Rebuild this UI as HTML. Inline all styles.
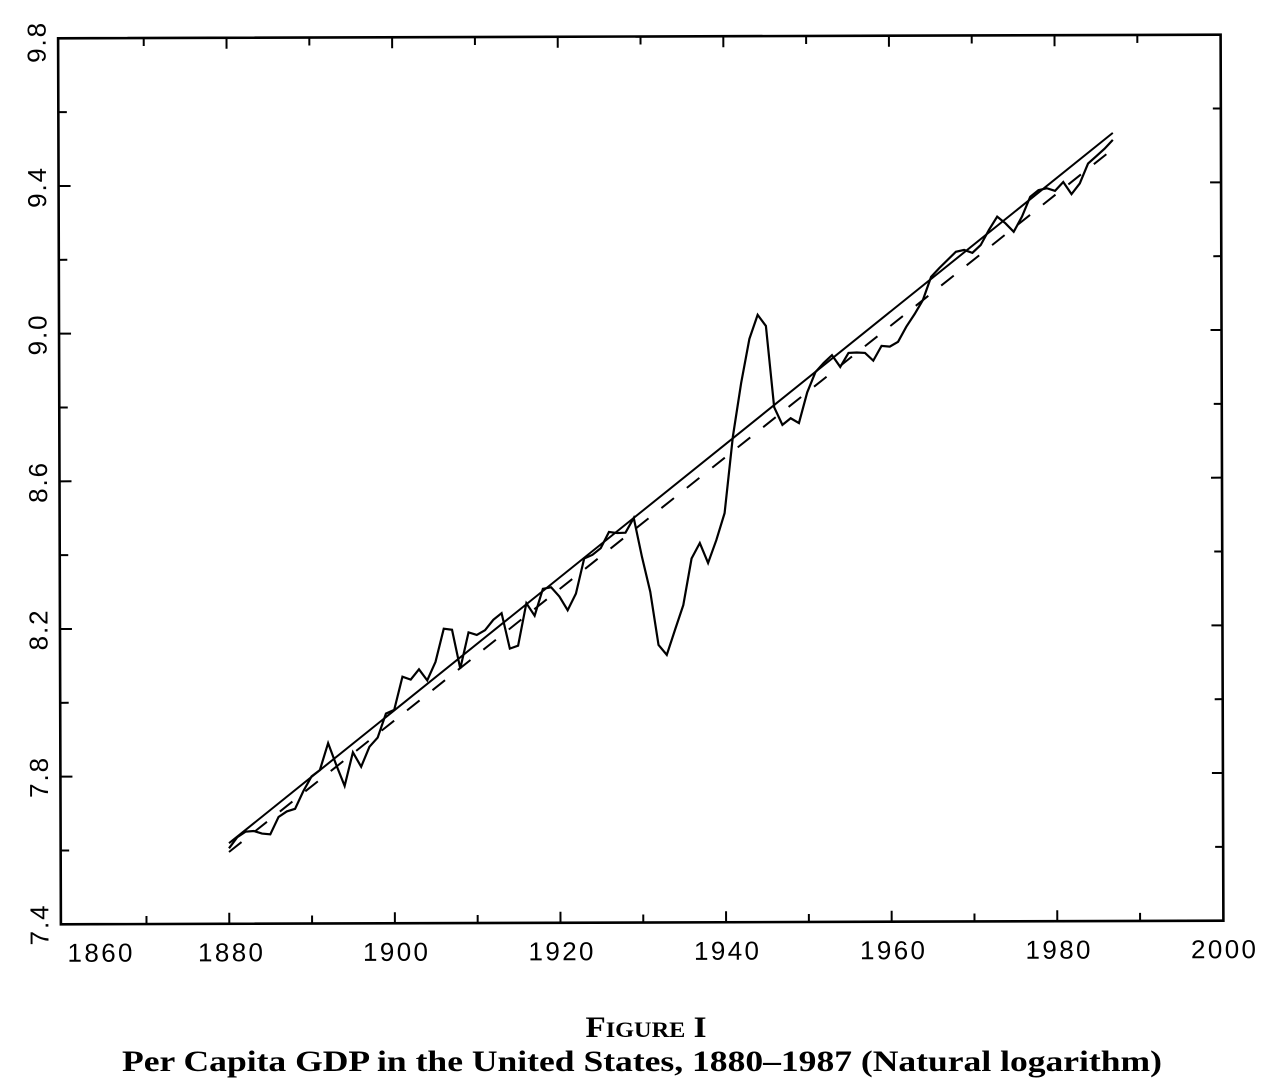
<!DOCTYPE html>
<html>
<head>
<meta charset="utf-8">
<style>
html,body{margin:0;padding:0;background:#fff;}
svg{display:block;}
</style>
</head>
<body>
<svg width="1284" height="1092" viewBox="0 0 1284 1092" xmlns="http://www.w3.org/2000/svg">
<rect x="0" y="0" width="1284" height="1092" fill="#fff"/>
<g transform="rotate(-0.18 640 480)" stroke="#000" fill="none" stroke-linecap="butt">
  <rect x="59.5" y="36.5" width="1162.5" height="886" stroke-width="2.6"/>
  <!-- bottom ticks -->
  <path stroke-width="2" d="
  M145.1 922.5V914.5 M227.9 922.5V911.5 M310.7 922.5V914.5 M393.5 922.5V911.5
  M476.3 922.5V914.5 M559.1 922.5V911.5 M641.9 922.5V914.5 M724.7 922.5V911.5
  M807.5 922.5V914.5 M890.3 922.5V911.5 M973.1 922.5V914.5 M1055.9 922.5V911.5
  M1138.7 922.5V914.5"/>
  <!-- top ticks -->
  <path stroke-width="2" d="
  M145.1 36.5V44.5 M227.9 36.5V47.5 M310.7 36.5V44.5 M393.5 36.5V47.5
  M476.3 36.5V44.5 M559.1 36.5V47.5 M641.9 36.5V44.5 M724.7 36.5V47.5
  M807.5 36.5V44.5 M890.3 36.5V47.5 M973.1 36.5V44.5 M1055.9 36.5V47.5
  M1138.7 36.5V44.5"/>
  <!-- left ticks -->
  <path stroke-width="2" d="
  M59.5 110.3H68 M59.5 184.2H71.5 M59.5 258H68 M59.5 331.8H71.5
  M59.5 405.7H68 M59.5 479.5H71.5 M59.5 553.3H68 M59.5 627.2H71.5
  M59.5 701H68 M59.5 774.8H71.5 M59.5 848.7H68"/>
  <!-- right ticks -->
  <path stroke-width="2" d="
  M1222 110.3H1214 M1222 184.2H1211 M1222 258H1214 M1222 331.8H1211
  M1222 405.7H1214 M1222 479.5H1211 M1222 553.3H1214 M1222 627.2H1211
  M1222 701H1214 M1222 774.8H1211 M1222 848.7H1214"/>
  <g stroke="none" fill="#000" font-family="'Liberation Sans', Arial, sans-serif" font-size="26" text-anchor="middle">
    <text x="98.5" y="960" textLength="65" lengthAdjust="spacing">1860</text>
    <text x="229" y="960" textLength="65" lengthAdjust="spacing">1880</text>
    <text x="394" y="960" textLength="65" lengthAdjust="spacing">1900</text>
    <text x="559.5" y="960" textLength="65" lengthAdjust="spacing">1920</text>
    <text x="725" y="960" textLength="65" lengthAdjust="spacing">1940</text>
    <text x="891" y="960" textLength="65" lengthAdjust="spacing">1960</text>
    <text x="1056.5" y="960" textLength="65" lengthAdjust="spacing">1980</text>
    <text x="1222" y="960" textLength="65" lengthAdjust="spacing">2000</text>
    <text transform="translate(47 41) rotate(-90)" textLength="40" lengthAdjust="spacing">9.8</text>
    <text transform="translate(47 186) rotate(-90)" textLength="40" lengthAdjust="spacing">9.4</text>
    <text transform="translate(47 333.5) rotate(-90)" textLength="40" lengthAdjust="spacing">9.0</text>
    <text transform="translate(47 481) rotate(-90)" textLength="40" lengthAdjust="spacing">8.6</text>
    <text transform="translate(47 628.5) rotate(-90)" textLength="40" lengthAdjust="spacing">8.2</text>
    <text transform="translate(47 776) rotate(-90)" textLength="40" lengthAdjust="spacing">7.8</text>
    <text transform="translate(47 923.5) rotate(-90)" textLength="40" lengthAdjust="spacing">7.4</text>
  </g>
</g>
<!-- trend lines -->
<line x1="229" y1="843.2" x2="1112.8" y2="132.9" stroke="#000" stroke-width="2"/>
<line x1="229" y1="852" x2="1112.8" y2="149.1" stroke="#000" stroke-width="2" stroke-dasharray="16 16.5"/>
<!-- data -->
<g transform="translate(229 38) scale(8.26 -369.17) translate(-1880 -9.8)">
<polyline fill="none" stroke="#000" stroke-width="2.2" stroke-linejoin="miter" vector-effect="non-scaling-stroke" points="
1880,7.605 1881,7.635 1882,7.650 1883,7.652 1884,7.645 1885,7.643 1886,7.690 1887,7.705 1888,7.712 1889,7.760
1890,7.800 1891,7.817 1892,7.890 1893,7.830 1894,7.774 1895,7.865 1896,7.826 1897,7.880 1898,7.905 1899,7.970
1900,7.980 1901,8.070 1902,8.062 1903,8.090 1904,8.060 1905,8.110 1906,8.200 1907,8.197 1908,8.092 1909,8.190
1910,8.183 1911,8.196 1912,8.224 1913,8.242 1914,8.146 1915,8.154 1916,8.269 1917,8.235 1918,8.308 1919,8.312
1920,8.287 1921,8.250 1922,8.295 1923,8.390 1924,8.400 1925,8.418 1926,8.462 1927,8.459 1928,8.460 1929,8.500
1930,8.394 1931,8.300 1932,8.156 1933,8.129 1934,8.197 1935,8.264 1936,8.390 1937,8.432 1938,8.378 1939,8.440
1940,8.513 1941,8.720 1942,8.865 1943,8.985 1944,9.050 1945,9.020 1946,8.800 1947,8.752 1948,8.770 1949,8.757
1950,8.840 1951,8.895 1952,8.920 1953,8.941 1954,8.909 1955,8.947 1956,8.948 1957,8.947 1958,8.926 1959,8.966
1960,8.964 1961,8.977 1962,9.018 1963,9.052 1964,9.090 1965,9.153 1966,9.177 1967,9.199 1968,9.221 1969,9.226
1970,9.218 1971,9.239 1972,9.280 1973,9.316 1974,9.298 1975,9.275 1976,9.316 1977,9.370 1978,9.388 1979,9.393
1980,9.386 1981,9.410 1982,9.377 1983,9.406 1984,9.460 1985,9.480 1986,9.500 1987,9.524"/>
</g>
<!-- caption -->
<g fill="#000" font-family="'Liberation Serif', 'Times New Roman', serif" font-weight="bold" text-anchor="middle">
  <text x="646" y="1037" font-size="30" textLength="121" lengthAdjust="spacingAndGlyphs">F<tspan font-size="22">IGURE</tspan> I</text>
  <text x="642" y="1071" font-size="30" textLength="1040" lengthAdjust="spacingAndGlyphs">Per Capita GDP in the United States, 1880–1987 (Natural logarithm)</text>
</g>
</svg>
</body>
</html>
